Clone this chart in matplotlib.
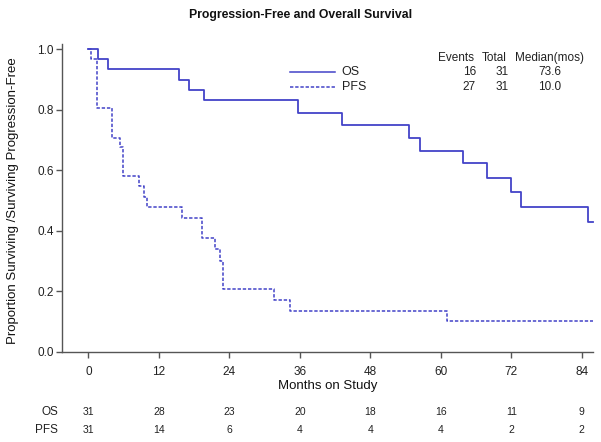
import matplotlib
matplotlib.use("Agg")
import matplotlib.pyplot as plt
import matplotlib.transforms as mtransforms

plt.rcParams['font.family'] = ['Liberation Sans', 'DejaVu Sans']

# ---- data ----
os_times = [0, 1.7, 3.3, 15.5, 17.2, 19.6, 35.7, 43.1, 54.6, 56.5, 63.8, 67.8, 71.9, 73.6, 85.1, 85.9]
os_surv = [1.0, 0.967, 0.934, 0.899, 0.865, 0.831, 0.790, 0.751, 0.708, 0.665, 0.625, 0.575, 0.528, 0.480, 0.429, 0.429]

pfs_times = [0, 0.5, 1.4, 4.0, 5.3, 5.9, 8.6, 9.4, 10.0, 16.0, 19.4, 21.5, 22.4, 22.9, 31.6, 34.4, 61.1, 85.9]
pfs_surv = [1.0, 0.968, 0.807, 0.708, 0.677, 0.581, 0.548, 0.513, 0.478, 0.443, 0.375, 0.339, 0.300, 0.206, 0.171, 0.136, 0.103, 0.103]

x_ticks = [0, 12, 24, 36, 48, 60, 72, 84]
y_ticks = [0.0, 0.2, 0.4, 0.6, 0.8, 1.0]
risk_os = [31, 28, 23, 20, 18, 16, 11, 9]
risk_pfs = [31, 14, 6, 4, 4, 4, 2, 2]

table_header = ["Events", "Total", "Median(mos)"]
table_os = ["16", "31", "73.6"]
table_pfs = ["27", "31", "10.0"]

W, H = 601, 442
color = '#4343c8'
spine_c = '#555555'
txt_c = '#222222'

fig = plt.figure(figsize=(W / 100, H / 100), dpi=100)
fig.patch.set_facecolor('white')

def fx(x):
    return x / W

def fy(y):
    return 1 - y / H

ax_l, ax_r, ax_t, ax_b = 62, 593.3, 44, 351.7
ax = fig.add_axes([fx(ax_l), fy(ax_b), (ax_r - ax_l) / W, (ax_b - ax_t) / H])
ax.step(os_times, os_surv, where='post', color=color, lw=1.3, clip_on=False)
ax.step(pfs_times, pfs_surv, where='post', color=color, lw=1.1,
        linestyle=(0, (2.2, 1.2)), clip_on=False)

ax.set_xlim(-4.5, 85.95)
ax.set_ylim(0, 1.0175)
ax.set_xticks(x_ticks)
ax.set_yticks(y_ticks)
ax.set_yticklabels([f"{v:.1f}" for v in y_ticks])
for s in ['top', 'right']:
    ax.spines[s].set_visible(False)
for s in ['left', 'bottom']:
    ax.spines[s].set_color(spine_c)
    ax.spines[s].set_linewidth(1.0)
ax.tick_params(axis='both', colors=spine_c, labelcolor=txt_c, labelsize=8.5,
               length=4, width=1.0)
ax.tick_params(axis='x', pad=6)
ax.tick_params(axis='y', pad=2)

# legend
fig.lines.append(plt.Line2D([fx(290), fx(335)], [fy(72.3), fy(72.3)],
                            transform=fig.transFigure, color=color, lw=1.1))
fig.lines.append(plt.Line2D([fx(290), fx(335)], [fy(87.3), fy(87.3)],
                            transform=fig.transFigure, color=color, lw=1.1,
                            linestyle=(0, (2.2, 1.2))))
fig.text(fx(341.5), fy(72.3), "OS", fontsize=9, color=txt_c, va='center', ha='left')
fig.text(fx(341.5), fy(87.3), "PFS", fontsize=9, color=txt_c, va='center', ha='left')

# table
fig.text(fx(437.7), fy(58.3), table_header[0], fontsize=8.5, color=txt_c, va='center', ha='left')
fig.text(fx(494.7), fy(58.3), table_header[1], fontsize=8.5, color=txt_c, va='center', ha='center')
fig.text(fx(550), fy(58.3), table_header[2], fontsize=8.5, color=txt_c, va='center', ha='center')
for row, yy in ((table_os, 72.3), (table_pfs, 87.3)):
    fig.text(fx(476), fy(yy), row[0], fontsize=8.5, color=txt_c, va='center', ha='right')
    fig.text(fx(508.3), fy(yy), row[1], fontsize=8.5, color=txt_c, va='center', ha='right')
    fig.text(fx(550), fy(yy), row[2], fontsize=8.5, color=txt_c, va='center', ha='center')

# title and labels
fig.text(fx(301), fy(15), "Progression-Free and Overall Survival", fontsize=8.8,
         fontweight='bold', color='#111111', ha='center', va='center')
fig.text(fx(13), fy(201), "Proportion Surviving /Surviving Progression-Free",
         fontsize=9.5, color='#111111', rotation=90, ha='center', va='center')
fig.text(fx(327.5), fy(386), "Months on Study", fontsize=9.5, color='#111111',
         ha='center', va='center')

# number at risk
blend = mtransforms.blended_transform_factory(ax.transData, fig.transFigure)
for t, n1, n2 in zip(x_ticks, risk_os, risk_pfs):
    ax.text(t, fy(412), str(n1), transform=blend, fontsize=7.5, color=txt_c,
            ha='center', va='center')
    ax.text(t, fy(430), str(n2), transform=blend, fontsize=7.5, color=txt_c,
            ha='center', va='center')
fig.text(fx(58), fy(412), "OS", fontsize=8.5, color=txt_c, ha='right', va='center')
fig.text(fx(58), fy(430), "PFS", fontsize=8.5, color=txt_c, ha='right', va='center')

fig.savefig("out.png", dpi=100, facecolor='white')
